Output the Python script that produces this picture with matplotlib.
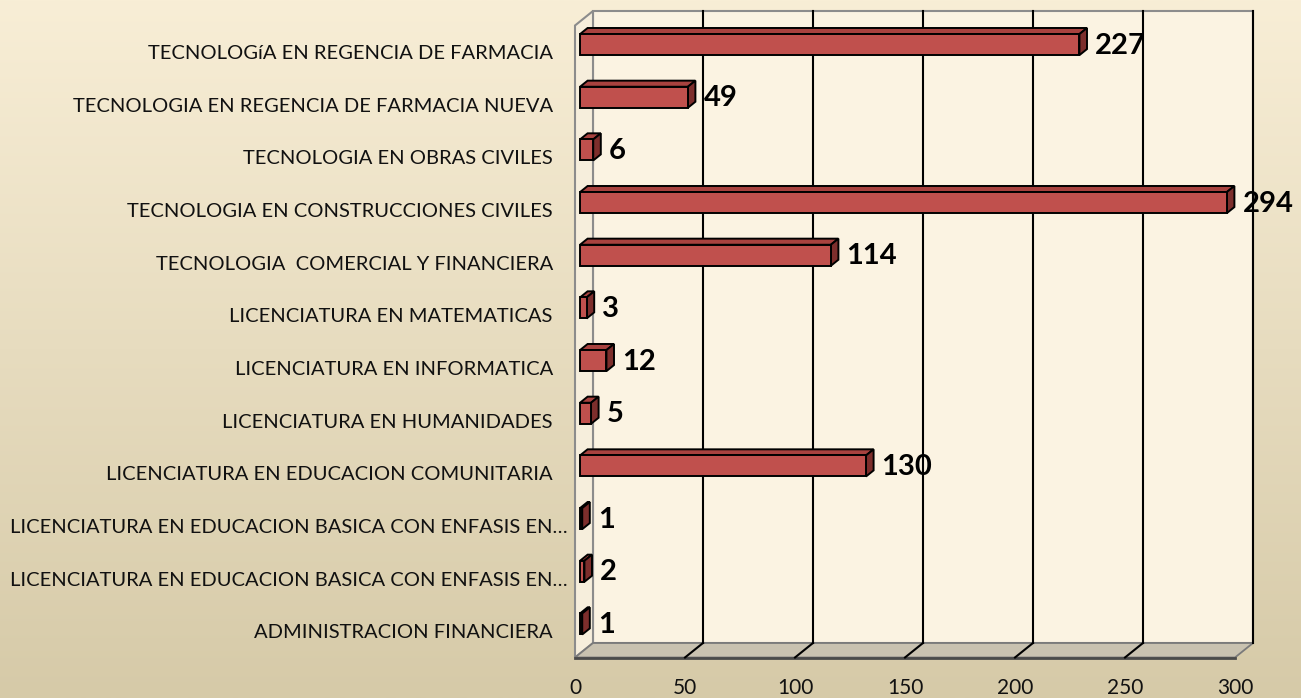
import matplotlib
matplotlib.use("Agg")
import matplotlib.pyplot as plt
import numpy as np
from matplotlib.patches import Polygon
from matplotlib.transforms import ScaledTranslation

categories = [
    "ADMINISTRACION FINANCIERA",
    "LICENCIATURA EN EDUCACION BASICA CON ENFASIS EN…",
    "LICENCIATURA EN EDUCACION BASICA CON ENFASIS EN…",
    "LICENCIATURA EN EDUCACION COMUNITARIA",
    "LICENCIATURA EN HUMANIDADES",
    "LICENCIATURA EN INFORMATICA",
    "LICENCIATURA EN MATEMATICAS",
    "TECNOLOGIA  COMERCIAL Y FINANCIERA",
    "TECNOLOGIA EN CONSTRUCCIONES CIVILES",
    "TECNOLOGIA EN OBRAS CIVILES",
    "TECNOLOGIA EN REGENCIA DE FARMACIA NUEVA",
    "TECNOLOGíA EN REGENCIA DE FARMACIA",
]
values = [1, 2, 1, 130, 5, 12, 3, 114, 294, 6, 49, 227]
xticks = [0, 50, 100, 150, 200, 250, 300]

plt.rcParams['font.family'] = ['Lato', 'DejaVu Sans']

W, H = 1301, 698
fig = plt.figure(figsize=(W / 100, H / 100), dpi=100)

# background gradient
bg = fig.add_axes([0, 0, 1, 1], zorder=0)
grad = np.linspace(0, 1, 256).reshape(-1, 1)
top = np.array([248, 238, 214]) / 255
bot = np.array([214, 202, 168]) / 255
img = top[None, None, :] * (1 - grad[..., None]) + bot[None, None, :] * grad[..., None]
bg.imshow(img, aspect='auto', extent=[0, 1, 0, 1])
bg.set_axis_off()

# main axes: front plane (depth 0)
left_px, right_px = 575, 1235
top_px, bot_px = 25.5, 657.5
ax = fig.add_axes([left_px / W, (H - bot_px) / H, (right_px - left_px) / W, (bot_px - top_px) / H], zorder=1)
ax.set_facecolor('none')
n = len(categories)
ax.set_xlim(0, 300)
ax.set_ylim(-0.5, n - 0.5)
for s in ax.spines.values():
    s.set_visible(False)

px_x = 300 / (right_px - left_px)          # data units per pixel (x)
px_y = n / (bot_px - top_px)               # data units per pixel (y)
DX = 18 * px_x
DY = 14.5 * px_y
y0, y1 = -0.5, n - 0.5
xmax = 300

wall_c = '#FBF3E2'
floor_c = '#C9C2B0'
edge_c = '#8C8C8C'

# back wall
ax.add_patch(Polygon([(DX, y0 + DY), (xmax + DX, y0 + DY), (xmax + DX, y1 + DY), (DX, y1 + DY)],
                     closed=True, facecolor=wall_c, edgecolor=edge_c, lw=1.5, clip_on=False, zorder=1))
# left wall
ax.add_patch(Polygon([(0, y0), (DX, y0 + DY), (DX, y1 + DY), (0, y1)],
                     closed=True, facecolor='#F6EEDC', edgecolor=edge_c, lw=1.5, clip_on=False, zorder=1))
# floor
ax.add_patch(Polygon([(0, y0), (xmax, y0), (xmax + DX, y0 + DY), (DX, y0 + DY)],
                     closed=True, facecolor=floor_c, edgecolor='#7A7A7A', lw=1.3, clip_on=False, zorder=1))
ax.plot([0, xmax], [y0, y0], color='#4A4A4A', lw=2, clip_on=False, zorder=2)

# gridlines
for v in xticks[1:]:
    ax.plot([v + DX, v + DX], [y0 + DY, y1 + DY], color='black', lw=1.5, clip_on=False, zorder=2)
    if v < xmax:
        ax.plot([v, v + DX], [y0, y0 + DY], color='black', lw=1.5, clip_on=False, zorder=2)

# bars
df, db = 0.28, 0.70
h = 0.40
yshift = 0.06
front_c = '#C0504D'
top_c = '#A8423F'
side_c = '#7D2E2C'
for i, v in enumerate(values):
    xf = df * DX
    yc = i + df * DY + yshift
    yb, yt = yc - h / 2, yc + h / 2
    ox, oy = (db - df) * DX, (db - df) * DY
    ax.add_patch(Polygon([(xf, yt), (v + xf, yt), (v + xf + ox, yt + oy), (xf + ox, yt + oy)],
                         closed=True, facecolor=top_c, edgecolor='black', lw=1.4, clip_on=False, zorder=4))
    ax.add_patch(Polygon([(v + xf, yb), (v + xf, yt), (v + xf + ox, yt + oy), (v + xf + ox, yb + oy)],
                         closed=True, facecolor=side_c, edgecolor='black', lw=1.4, clip_on=False, zorder=4))
    ax.add_patch(Polygon([(xf, yb), (v + xf, yb), (v + xf, yt), (xf, yt)],
                         closed=True, facecolor=front_c, edgecolor='black', lw=1.4, clip_on=False, zorder=5))
    ax.text(v + xf + ox + 8 * px_x, yc - 0.02, str(v), ha='left', va='center',
            fontsize=21, fontweight='bold', color='black', zorder=6, clip_on=False)

# ticks
ax.set_yticks(range(n))
ax.set_yticklabels(categories, fontsize=14.5, color='#111111')
ax.set_xticks(xticks)
ax.set_xticklabels([str(t) for t in xticks], fontsize=15, color='#111111')
ax.tick_params(axis='y', length=0, pad=16)
ax.tick_params(axis='x', length=0, pad=14.5)
for lab in ax.get_yticklabels():
    if lab.get_text().endswith('…'):
        lab.set_transform(lab.get_transform() + ScaledTranslation(15 / 100, 0, fig.dpi_scale_trans))

fig.savefig('out.png', dpi=100)
